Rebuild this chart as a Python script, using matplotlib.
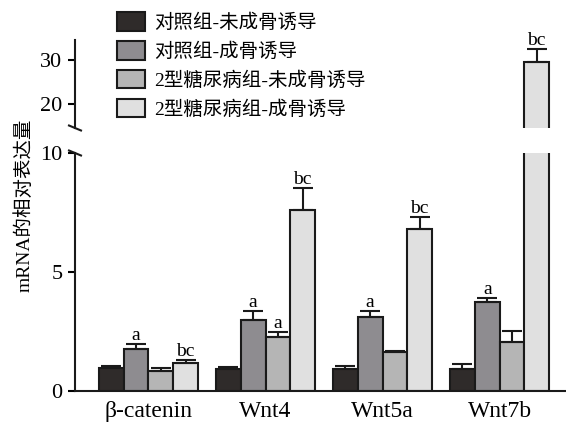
import numpy as np
import matplotlib
matplotlib.use('Agg')
import matplotlib.pyplot as plt
from matplotlib.patches import Patch

plt.rcParams['font.family'] = ['Liberation Serif', 'Noto Sans CJK SC']

genes = ['β-catenin', 'Wnt4', 'Wnt5a', 'Wnt7b']
groups = ['对照组-未成骨诱导', '对照组-成骨诱导',
          '2型糖尿病组-未成骨诱导', '2型糖尿病组-成骨诱导']
colors = ['#2f2b2a', '#8e8c90', '#b5b5b5', '#e0e0e0']

# mean and upper error (SD) per group, per gene
means = [
    [0.96, 0.93, 0.92, 0.92],
    [1.75, 2.99, 3.11, 3.72],
    [0.83, 2.28, 1.64, 2.07],
    [1.18, 7.61, 6.80, 29.5],
]
errs = [
    [0.09, 0.08, 0.12, 0.22],
    [0.24, 0.39, 0.27, 0.17],
    [0.13, 0.21, 0.06, 0.46],
    [0.11, 0.94, 0.49, 3.0],
]
labels = [
    ['', '', '', ''],
    ['a', 'a', 'a', 'a'],
    ['', 'a', '', ''],
    ['bc', 'bc', 'bc', 'bc'],
]

fig = plt.figure(figsize=(5.66, 4.26), dpi=100)
W, H = 566.0, 426.0
ax_lo = fig.add_axes([75 / W, 35 / H, 491 / W, 238 / H])
ax_hi = fig.add_axes([75 / W, (H - 128) / H, 491 / W, 88 / H])

x = np.arange(len(genes))
width = 0.211
xlim = (-0.628, 3.568)

for ax in (ax_lo, ax_hi):
    lo, hi = (0, 10) if ax is ax_lo else (14.5, 34.5)
    for i in range(4):
        pos = x + (i - 1.5) * width
        ax.bar(pos, means[i], width, color=colors[i], edgecolor='#1a1a1a',
               linewidth=1.5, zorder=2)
        ax.errorbar(pos, means[i], yerr=[np.zeros(4), errs[i]], fmt='none',
                    ecolor='#1a1a1a', elinewidth=1.5, capsize=7,
                    capthick=1.5, zorder=3)
        for p, m, e, t in zip(pos, means[i], errs[i], labels[i]):
            if t and lo < m + e < hi:
                ax.text(p, m + e, t, ha='center', va='bottom', fontsize=14,
                        clip_on=False)
    ax.set_xlim(*xlim)
    ax.set_ylim(lo, hi)
    ax.spines['top'].set_visible(False)
    ax.spines['right'].set_visible(False)
    for s in ax.spines.values():
        s.set_linewidth(1.5)
        s.set_color('#1a1a1a')
    ax.tick_params(axis='y', direction='out', length=5, width=1.5,
                   labelsize=16, pad=4)

ax_lo.set_yticks([0, 5, 10])
ax_lo.set_xticks(x)
ax_lo.set_xticklabels(genes, fontsize=17)
ax_lo.tick_params(axis='x', length=0, pad=7)

ax_hi.set_yticks([20, 30])
ax_hi.spines['bottom'].set_visible(False)
ax_hi.set_xticks([])

# break marks on the y axis
d = 6 / W
for yb in ((H - 128) / H, (H - 153) / H):
    fig.add_artist(plt.Line2D([75 / W - d, 75 / W + d],
                              [yb + 2.5 / H, yb - 2.5 / H],
                              color='#1a1a1a', lw=1.5))

fig.text(24 / W, 1 - 205 / H, 'mRNA的相对表达量', rotation=90,
         ha='center', va='center', fontsize=14)

handles = [Patch(facecolor=c, edgecolor='#1a1a1a', linewidth=1.5) for c in colors]
fig.legend(handles, groups, loc='upper left',
           bbox_to_anchor=(117 / W, 1 - 12 / H), frameon=False, fontsize=14,
           handlelength=1.45, handleheight=1.1, labelspacing=0.46,
           handletextpad=0.45, borderpad=0, borderaxespad=0)

fig.savefig('out.png', dpi=100)
